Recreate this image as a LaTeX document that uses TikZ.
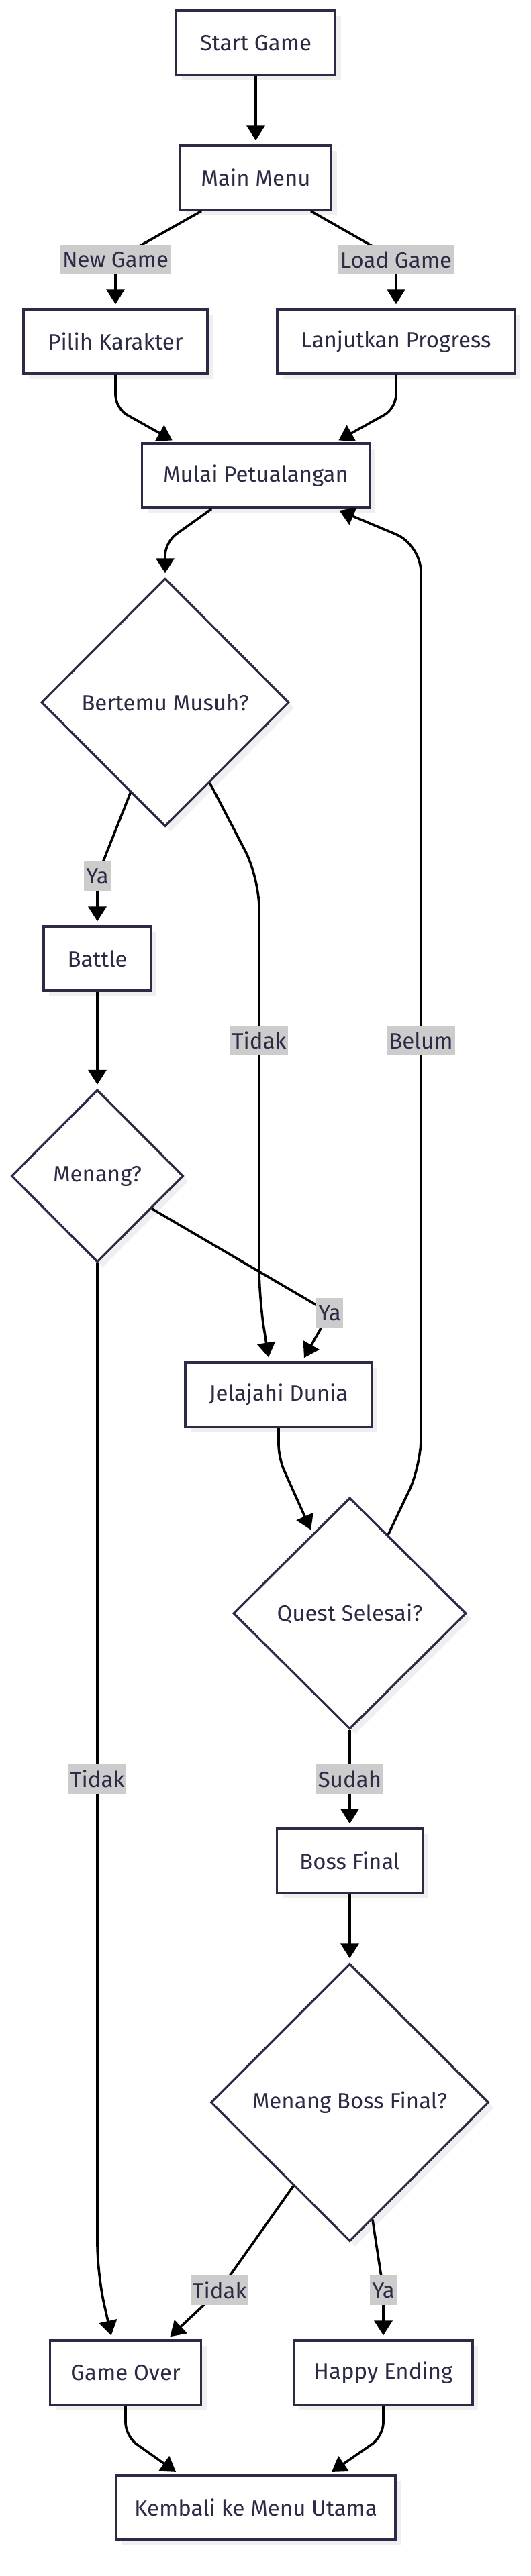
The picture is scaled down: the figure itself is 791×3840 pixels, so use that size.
\documentclass[tikz,border=0pt]{standalone}
\usepackage{fontspec}
\setmainfont{Fira Sans}
\usetikzlibrary{shapes.geometric,arrows.meta,shadows}
\definecolor{ink}{HTML}{2B2B45}
\definecolor{shade}{HTML}{EFEFEF}
\definecolor{lblbg}{HTML}{CCCCCC}

\begin{document}
\begin{tikzpicture}[x=1pt, y=1pt,
  box/.style={draw=ink, line width=3.3pt, fill=white, text=ink,
    font=\fontsize{33}{40}\selectfont, minimum height=96pt, inner sep=0pt,
    drop shadow={shadow xshift=8pt, shadow yshift=-8pt, opacity=1, fill=shade}},
  decision/.style={box, diamond, aspect=1},
  flow/.style={line width=3.6pt, -{Triangle[length=22pt,width=27pt]},
    shorten >=6pt, rounded corners=20pt},
  lbl/.style={fill=lblbg, text=ink, font=\fontsize{33}{40}\selectfont,
    inner xsep=3pt, inner ysep=0pt, minimum height=44pt}]

\path[use as bounding box, fill=white] (0,0) rectangle (791,-3840);

% steps
\node[box, minimum width=237pt] (start) at (381,-64) {Start Game};
\node[box, minimum width=225pt] (mainmenu) at (381,-265) {Main Menu};
\node[box, minimum width=274pt] (pilih) at (172,-509) {Pilih Karakter};
\node[box, minimum width=354pt] (lanjut) at (590,-509) {Lanjutkan Progress};
\node[box, minimum width=339pt] (mulai) at (381,-709) {Mulai Petualangan};
\node[decision, minimum width=369pt, minimum height=370pt] (musuh) at (246,-1047) {Bertemu Musuh?};
\node[box, minimum width=160pt] (battle) at (145,-1429) {Battle};
\node[decision, minimum width=256pt, minimum height=257pt] (menang) at (145,-1753) {Menang?};
\node[box, minimum width=278pt] (jelajah) at (415,-2079) {Jelajahi Dunia};
\node[decision, minimum width=347pt, minimum height=345pt] (quest) at (521,-2405) {Quest Selesai?};
\node[box, minimum width=217pt] (boss) at (521,-2774) {Boss Final};
\node[decision, minimum width=414pt, minimum height=414pt] (bossfinal) at (521,-3134) {Menang Boss Final?};
\node[box, minimum width=225pt] (gameover) at (187,-3537) {Game Over};
\node[box, minimum width=266pt] (happy) at (571,-3537) {Happy Ending};
\node[box, minimum width=416pt] (kembali) at (381,-3738) {Kembali ke Menu Utama};

% where the edge labels sit
\coordinate (cNew) at (172,-387);
\coordinate (cLoad) at (590,-387);
\coordinate (cYa1) at (145,-1306);
\coordinate (cTidak1) at (386,-1551);
\coordinate (cBelum) at (627,-1551);
\coordinate (cYa2) at (491,-1957);
\coordinate (cTidak2) at (145,-2652);
\coordinate (cSudah) at (521,-2652);
\coordinate (cTidak3) at (327,-3414);
\coordinate (cYa3) at (571,-3414);

\draw[flow] (start) -- (mainmenu);
\draw[flow] ([xshift=-81pt]mainmenu.south) -- (cNew) -- (pilih);
\draw[flow] ([xshift=82pt]mainmenu.south) -- (cLoad) -- (lanjut);
\draw[flow] (pilih.south) -- ++(0,-50) -- ([xshift=-119pt]mulai.north);
\draw[flow] (lanjut.south) -- ++(0,-50) -- ([xshift=118pt]mulai.north);
\draw[flow] ([xshift=-66pt]mulai.south) -- (246,-808) -- (musuh.north);

\draw[flow] (musuh.249) -- (cYa1) -- (battle);
\draw[flow, rounded corners=45pt] (musuh.299) -- (386,-1308) -- (cTidak1) -- (386,-1935) -- ([xshift=-14pt]jelajah.north);
\draw[flow] (battle) -- (menang);
\draw[flow] (menang.329) -- (cYa2) -- ([xshift=35pt]jelajah.north);
\draw[flow, rounded corners=45pt] (menang.south) -- (cTidak2) -- (145,-3390) -- ([xshift=-20pt]gameover.north);

\draw[flow] (jelajah.south) -- ++(0,-45) -- (quest.115);
\draw[flow, rounded corners=40pt] (quest.64) -- (627,-2185) -- (cBelum) -- (627,-812) -- ([xshift=119pt]mulai.south);
\draw[flow] (quest) -- (cSudah) -- (boss);
\draw[flow] (boss) -- (bossfinal);
\draw[flow] (bossfinal.236) -- (cTidak3) -- ([xshift=62pt]gameover.north);
\draw[flow] (bossfinal.281) -- (cYa3) -- (happy);
\draw[flow] (gameover.south) -- ++(0,-45) -- ([xshift=-114pt]kembali.north);
\draw[flow] (happy.south) -- ++(0,-45) -- ([xshift=108pt]kembali.north);

% edge labels
\node[lbl] (lNew) at (cNew) {New Game};
\node[lbl] (lLoad) at (cLoad) {Load Game};
\node[lbl] (lYa1) at (cYa1) {Ya};
\node[lbl] (lTidak1) at (cTidak1) {Tidak};
\node[lbl] (lBelum) at (cBelum) {Belum};
\node[lbl] (lYa2) at (cYa2) {Ya};
\node[lbl] (lTidak2) at (cTidak2) {Tidak};
\node[lbl] (lSudah) at (cSudah) {Sudah};
\node[lbl] (lTidak3) at (cTidak3) {Tidak};
\node[lbl] (lYa3) at (cYa3) {Ya};

\end{tikzpicture}
\end{document}
